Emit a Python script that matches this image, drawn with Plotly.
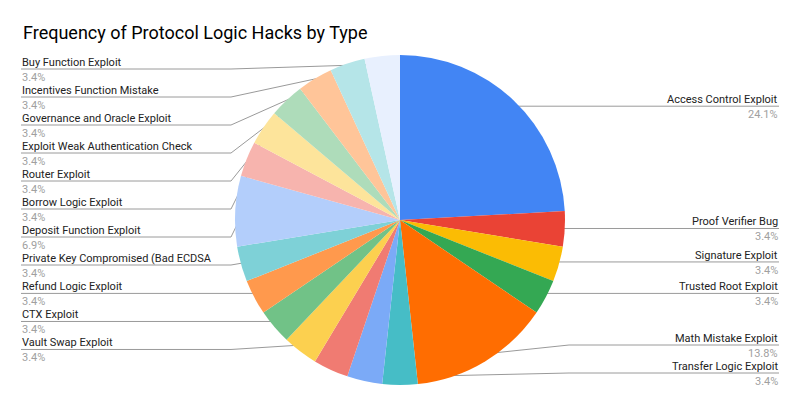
import math
import plotly.graph_objects as go

# ---- data ----
categories = [
    "Access Control Exploit", "Proof Verifier Bug", "Signature Exploit", "Trusted Root Exploit",
    "Math Mistake Exploit", "Transfer Logic Exploit", "Other Exploit A", "Other Exploit B",
    "Vault Swap Exploit", "CTX Exploit", "Refund Logic Exploit", "Private Key Compromised (Bad ECDSA",
    "Deposit Function Exploit", "Borrow Logic Exploit", "Router Exploit",
    "Exploit Weak Authentication Check", "Governance and Oracle Exploit",
    "Incentives Function Mistake", "Buy Function Exploit",
]
counts = [7, 1, 1, 1, 4, 1, 1, 1, 1, 1, 1, 1, 2, 1, 1, 1, 1, 1, 1]
hidden_labels = ["Other Exploit A", "Other Exploit B"]
colors = [
    "#4285F4", "#EA4335", "#FBBC04", "#34A853", "#FF6D01", "#46BDC6", "#7BAAF7", "#F07B72",
    "#FCD04F", "#71C287", "#FF994D", "#7ED1D7", "#B3CEFB", "#F7B4AE", "#FDE49B", "#AEDCBA",
    "#FFC599", "#B5E5E8", "#E8F0FE",
]
title = "Frequency of Protocol Logic Hacks by Type"

# ---- layout constants (pixels) ----
W, H = 800, 407
CX, CY, R = 400, 220, 165
DOT_R = 0.95 * R
BEND = R + 4
TOP_Y, BOT_Y, GAP = 69, 373, 28
LEFT_X, RIGHT_X = 21, 779
FONT = "Roboto, Arial, sans-serif"

fig = go.Figure()
fig.add_trace(go.Pie(
    labels=categories, values=counts, sort=False, direction="clockwise", rotation=0,
    marker=dict(colors=colors, line=dict(color="white", width=0)),
    textinfo="none", showlegend=False, hole=0,
    domain=dict(x=[(CX - R) / W, (CX + R) / W], y=[(H - CY - R) / H, (H - CY + R) / H]),
))

total = sum(counts)
cum = 0
items = []
for name, c in zip(categories, counts):
    mid = (cum + c / 2) / total * 2 * math.pi
    cum += c
    if name in hidden_labels:
        continue
    dx, dy = CX + DOT_R * math.sin(mid), CY - DOT_R * math.cos(mid)
    side = "right" if math.sin(mid) > 0 else "left"
    items.append(dict(name=name, pct=f"{c / total * 100:.1f}%", dx=dx, dy=dy, side=side))

for side in ("left", "right"):
    group = sorted([it for it in items if it["side"] == side], key=lambda it: it["dy"])
    ys = []
    for i, it in enumerate(group):
        y = max(it["dy"], TOP_Y)
        if i > 0:
            y = max(y, ys[-1] + GAP)
        ys.append(y)
    for i in range(len(group) - 1, -1, -1):
        ys[i] = min(ys[i], BOT_Y)
        if i < len(group) - 1:
            ys[i] = min(ys[i], ys[i + 1] - GAP)
    for it, y in zip(group, ys):
        it["ly"] = y

line_x, line_y, dot_x, dot_y = [], [], [], []
annotations = []
for it in items:
    ly = it["ly"]
    if it["side"] == "right":
        bx = max(CX + BEND, it["dx"])
        xs = [it["dx"], bx, RIGHT_X]
        tx, anchor = RIGHT_X, "right"
    else:
        bx = min(CX - BEND, it["dx"])
        xs = [it["dx"], bx, LEFT_X]
        tx, anchor = LEFT_X, "left"
    line_x += xs + [None]
    line_y += [it["dy"], ly, ly, None]
    dot_x.append(it["dx"])
    dot_y.append(it["dy"])
    annotations.append(dict(x=tx, y=ly - 6.5, xref="x", yref="y", text=it["name"], showarrow=False,
                            xanchor=anchor, yanchor="middle", borderpad=0,
                            font=dict(family=FONT, size=11, color="#222222")))
    annotations.append(dict(x=tx, y=ly + 8.5, xref="x", yref="y", text=it["pct"], showarrow=False,
                            xanchor=anchor, yanchor="middle", borderpad=0,
                            font=dict(family=FONT, size=11, color="#a0a0a0")))

fig.add_trace(go.Scatter(x=line_x, y=line_y, mode="lines", line=dict(color="#9a9a9a", width=1),
                         hoverinfo="skip", showlegend=False))
fig.add_trace(go.Scatter(x=dot_x, y=dot_y, mode="markers", marker=dict(color="#9a9a9a", size=4),
                         hoverinfo="skip", showlegend=False))

annotations.append(dict(x=LEFT_X, y=32, xref="x", yref="y", text=title, showarrow=False,
                        xanchor="left", yanchor="middle",
                        font=dict(family=FONT, size=18, color="#000000")))

fig.update_layout(
    width=W, height=H, margin=dict(l=0, r=0, t=0, b=0),
    paper_bgcolor="white", plot_bgcolor="rgba(0,0,0,0)",
    xaxis=dict(range=[0, W], visible=False, fixedrange=True),
    yaxis=dict(range=[H, 0], visible=False, fixedrange=True),
    annotations=annotations,
)
fig.write_html("out.html", config={"displayModeBar": False},
               post_script="document.body.style.margin='0';")
